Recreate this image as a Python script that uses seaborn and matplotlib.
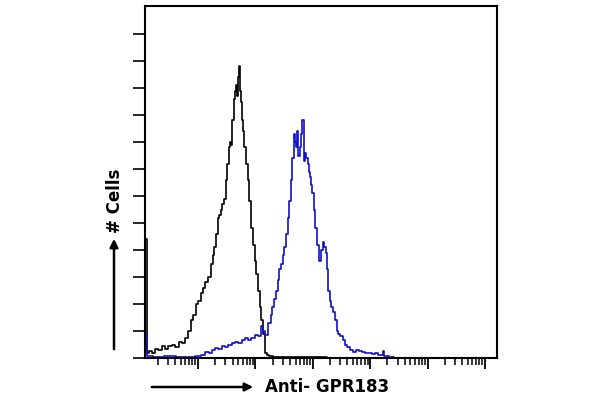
"""Flow cytometry overlay: isotype control vs anti-GPR183 staining."""

import matplotlib.pyplot as plt
import numpy as np
import seaborn as sns
from matplotlib.patches import FancyArrowPatch
from matplotlib.ticker import FixedLocator, LogLocator, NullFormatter

# --------------------------------------------------------------------------- #
# Data (x in log10 fluorescence, y in cell counts)
# --------------------------------------------------------------------------- #
control_log = [0.09, 0.12, 0.16, 0.22, 0.28, 0.34, 0.40, 0.46, 0.51, 0.57, 0.63,
               0.69, 0.75, 0.80, 0.85, 0.89, 0.94, 0.98, 1.02, 1.07, 1.11, 1.15,
               1.20, 1.24, 1.27, 1.30, 1.33, 1.35, 1.38, 1.41, 1.44, 1.47, 1.50,
               1.52, 1.55, 1.57, 1.59, 1.61, 1.63, 1.65, 1.67, 1.69, 1.71, 1.72,
               1.74, 1.76, 1.78, 1.80, 1.82, 1.85, 1.88, 1.91, 1.94, 1.97, 2.00,
               2.03, 2.06, 2.09, 2.12, 2.15, 2.18, 2.21, 2.25, 2.35, 2.54, 2.80,
               3.10, 3.35, 3.60]
control_counts = [44, 2, 2.5, 2, 3.5, 3, 4.5, 3.5, 4.5, 5, 4, 6, 5.5, 7.5, 10, 14,
                  16, 20, 21, 24, 26, 28, 30, 35, 38, 41, 46, 52, 53, 55, 57, 59,
                  66, 72, 78, 80, 79, 88, 96, 99, 101, 97, 104, 108, 99, 95, 88, 84,
                  78, 72, 66, 58, 48, 42, 36, 31, 25, 19, 14, 9, 2, 1, 0.8, 0.5,
                  0.4, 0.2, 0.3, 0, 0]

stained_log = [0.09, 0.12, 0.30, 0.50, 0.70, 0.90, 1.00, 1.10, 1.15, 1.22, 1.28,
               1.32, 1.38, 1.44, 1.50, 1.56, 1.62, 1.67, 1.73, 1.79, 1.85, 1.90,
               1.96, 2.02, 2.07, 2.11, 2.15, 2.20, 2.25, 2.28, 2.31, 2.34, 2.37,
               2.40, 2.43, 2.46, 2.49, 2.52, 2.55, 2.57, 2.60, 2.63, 2.66, 2.68,
               2.70, 2.72, 2.74, 2.76, 2.78, 2.80, 2.83, 2.85, 2.87, 2.90, 2.92,
               2.94, 2.96, 2.98, 3.00, 3.03, 3.06, 3.09, 3.13, 3.16, 3.18, 3.21,
               3.24, 3.26, 3.28, 3.31, 3.34, 3.37, 3.40, 3.43, 3.46, 3.50, 3.54,
               3.58, 3.62, 3.67, 3.72, 3.77, 3.83, 3.89, 3.94, 4.00, 4.06, 4.11,
               4.16, 4.20, 4.23, 4.26, 4.30, 4.36, 4.45, 4.60]
stained_counts = [9, 0.8, 0.4, 0.6, 0.3, 0.5, 0.6, 1.0, 2.3, 2.0, 3.0, 3.6, 3.2, 4.5,
                  4.2, 5.0, 5.5, 6.0, 5.5, 6.5, 7.3, 6.8, 7.5, 8.5, 8.0, 12, 10, 8.5,
                  13, 16, 19, 22, 25, 29, 33, 35, 38, 41, 46, 52, 58, 66, 74, 83, 80,
                  78, 84, 75, 78, 83, 88, 73, 76, 74, 72, 69, 67, 64, 61, 55, 48, 42,
                  36, 40, 43, 41, 39, 33, 25, 21, 19, 17, 14, 10, 9, 8, 6.5, 5, 4,
                  3, 2.3, 3, 2.5, 2.3, 1.8, 2.0, 1.5, 1.7, 1.2, 1.0, 2.5, 0.8, 0.6,
                  0.3, 0.1, 0]

y_ticks = [0, 10, 20, 30, 40, 50, 60, 70, 80, 90, 100, 110, 120]

# --------------------------------------------------------------------------- #
# Figure
# --------------------------------------------------------------------------- #
sns.set_style("ticks")
plt.rcParams["font.family"] = ["DejaVu Sans"]
plt.rcParams["text.color"] = "black"

fig = plt.figure(figsize=(6, 4), dpi=100)
ax = fig.add_axes([0.2417, 0.105, 0.5867, 0.88])

sns.lineplot(x=10 ** np.array(control_log), y=control_counts, ax=ax,
             color="black", lw=1.2, drawstyle="steps-mid", estimator=None)
sns.lineplot(x=10 ** np.array(stained_log), y=stained_counts, ax=ax,
             color="#1010c8", lw=1.2, drawstyle="steps-mid", estimator=None)

ax.set_xscale("log")
ax.set_xlim(10 ** 0.077, 10 ** 6.21)
ax.set_ylim(0, 130.4)

ax.xaxis.set_major_locator(LogLocator(base=10, numticks=10))
ax.xaxis.set_minor_locator(LogLocator(base=10, subs=np.arange(2, 10), numticks=100))
ax.xaxis.set_major_formatter(NullFormatter())
ax.xaxis.set_minor_formatter(NullFormatter())
ax.yaxis.set_major_locator(FixedLocator(y_ticks))
ax.yaxis.set_major_formatter(NullFormatter())

ax.tick_params(axis="x", which="major", direction="out", length=8, width=1.3,
               color="black")
ax.tick_params(axis="x", which="minor", direction="out", length=5, width=1.1,
               color="black")
ax.tick_params(axis="y", which="major", direction="out", length=9, width=1.2,
               color="black")

for side in ["left", "right", "top", "bottom"]:
    ax.spines[side].set_visible(True)
    ax.spines[side].set_color("black")
    ax.spines[side].set_linewidth(1.5)


# Axis captions with arrows, in figure pixel coordinates
def fx(px):
    return px / 600


def fy(py):
    return 1 - py / 400


fig.text(fx(265), fy(387), "Anti- GPR183", ha="left", va="center",
         fontsize=12, fontweight="bold", color="black")
fig.text(fx(115), fy(201), "# Cells", ha="center", va="center", rotation=90,
         fontsize=12, fontweight="bold", color="black")
fig.patches.append(FancyArrowPatch(
    (fx(149), fy(387)), (fx(256), fy(387)), transform=fig.transFigure,
    arrowstyle="-|>", mutation_scale=12, lw=1.8, color="black"))
fig.patches.append(FancyArrowPatch(
    (fx(114), fy(352)), (fx(114), fy(236)), transform=fig.transFigure,
    arrowstyle="-|>", mutation_scale=12, lw=1.8, color="black"))

fig.savefig("out.png", dpi=100)
